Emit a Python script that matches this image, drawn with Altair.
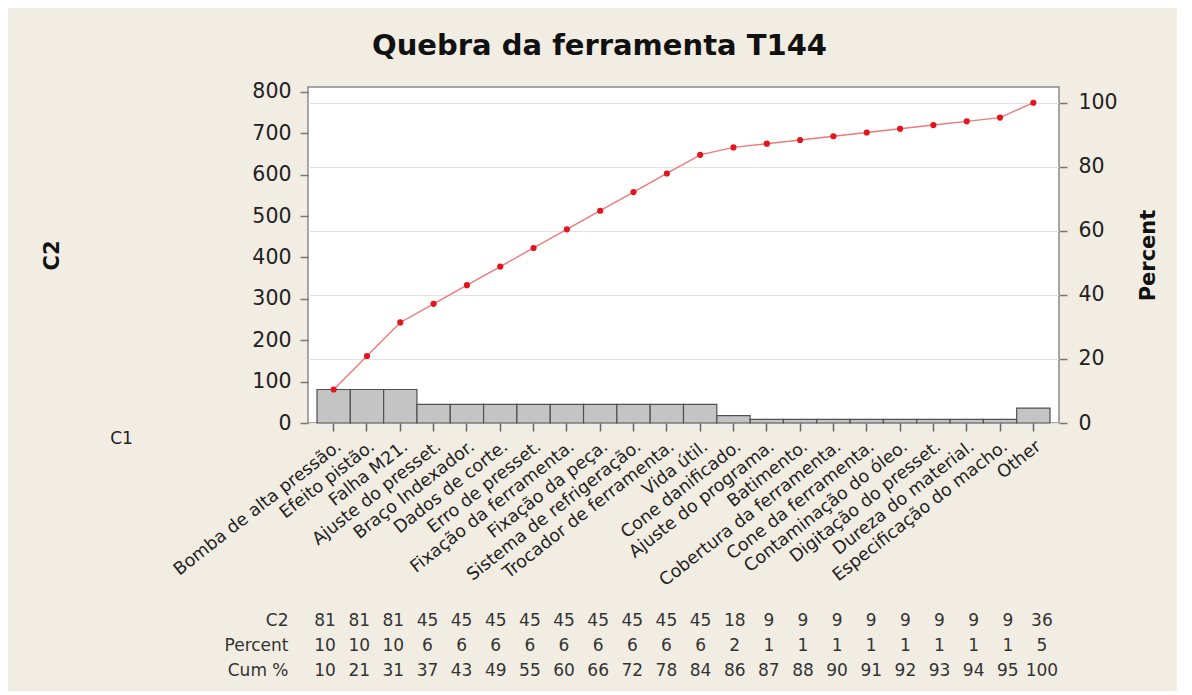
import altair as alt
import pandas as pd

categories = [
    "Bomba de alta pressão.", "Efeito pistão.", "Falha M21.", "Ajuste do presset.",
    "Braço Indexador.", "Dados de corte.", "Erro de presset.", "Fixação da ferramenta.",
    "Fixação da peça.", "Sistema de refrigeração.", "Trocador de ferramenta.", "Vida útil.",
    "Cone danificado.", "Ajuste do programa.", "Batimento.", "Cobertura da ferramenta.",
    "Cone da ferramenta.", "Contaminação do óleo.", "Digitação do presset.",
    "Dureza do material.", "Especificação do macho.", "Other",
]
counts = [81, 81, 81, 45, 45, 45, 45, 45, 45, 45, 45, 45, 18, 9, 9, 9, 9, 9, 9, 9, 9, 36]
percent_labels = [10, 10, 10, 6, 6, 6, 6, 6, 6, 6, 6, 6, 2, 1, 1, 1, 1, 1, 1, 1, 1, 5]
cum_labels = [10, 21, 31, 37, 43, 49, 55, 60, 66, 72, 78, 84, 86, 87, 88, 90, 91, 92, 93, 94, 95, 100]
row_names = ["C2", "Percent", "Cum %"]
left_ticks = [0, 100, 200, 300, 400, 500, 600, 700, 800]
right_ticks = [0, 20, 40, 60, 80, 100]

total = sum(counts)
cum_pct = []
running = 0
for c in counts:
    running += c
    cum_pct.append(running / total * 100)

df = pd.DataFrame({"cat": categories, "count": counts, "cum_pct": cum_pct})

rows = []
for i, cat in enumerate(categories):
    rows.append({"cat": cat, "row": "C2", "val": str(counts[i])})
    rows.append({"cat": cat, "row": "Percent", "val": str(percent_labels[i])})
    rows.append({"cat": cat, "row": "Cum %", "val": str(cum_labels[i])})
tdf = pd.DataFrame(rows)

FONT = "DejaVu Sans"
ymax = 812
pmax = ymax / total * 100
W, H = 751, 336

xscale = alt.Scale(domain=categories, paddingInner=0, paddingOuter=0.27)

bars = alt.Chart(df).mark_bar(fill="#c4c4c4", stroke="#505050", strokeWidth=1.2).encode(
    x=alt.X("cat:N", sort=categories, scale=xscale,
            axis=alt.Axis(title="C1", labelAngle=-38, labelAlign="right", labelBaseline="top",
                          labelFont=FONT, labelFontSize=17.5, labelColor="#222", labelPadding=6,
                          labelLimit=400, ticks=True, tickSize=8, tickColor="#666", tickWidth=1.5,
                          domain=False, titleFont=FONT, titleFontSize=17, titleFontWeight="normal",
                          titleColor="#222", titleX=-187, titleY=15, titleAngle=0,
                          titleAlign="center", titleBaseline="middle")),
    y=alt.Y("count:Q", scale=alt.Scale(domain=[0, ymax], nice=False),
            axis=alt.Axis(title="C2", values=left_ticks, grid=False, domain=False,
                          tickSize=8, tickColor="#777", tickWidth=1.5,
                          labelFont=FONT, labelFontSize=20.5, labelColor="#222", labelPadding=9,
                          titleFont=FONT, titleFontSize=21, titleFontWeight="bold", titleColor="#111",
                          titleX=-256, titleY=H / 2, titleAngle=270, titleAlign="center",
                          titleBaseline="middle")),
)

line = alt.Chart(df).mark_line(color="#f07878", strokeWidth=1.4).encode(
    x=alt.X("cat:N", sort=categories, scale=xscale),
    y=alt.Y("cum_pct:Q", scale=alt.Scale(domain=[0, pmax], nice=False),
            axis=alt.Axis(orient="right", title="Percent", values=right_ticks, grid=True,
                          gridColor="#e2e2e2", gridWidth=1.2, domain=False,
                          tickSize=8, tickColor="#777", tickWidth=1.5,
                          labelFont=FONT, labelFontSize=20.5, labelColor="#222", labelPadding=11,
                          titleFont=FONT, titleFontSize=21, titleFontWeight="bold", titleColor="#111",
                          titleX=89, titleY=H / 2, titleAngle=270, titleAlign="center",
                          titleBaseline="middle")),
)
pts = alt.Chart(df).mark_point(filled=True, color="#e3141c", size=38, opacity=1).encode(
    x=alt.X("cat:N", sort=categories, scale=xscale),
    y=alt.Y("cum_pct:Q", scale=alt.Scale(domain=[0, pmax], nice=False)),
)

main = alt.layer(bars, alt.layer(line, pts)).resolve_scale(y="independent").properties(
    width=W, height=H,
    view=alt.ViewBackground(fill="white", stroke="#8a8a8a", strokeWidth=1.5),
)

table = alt.Chart(tdf).mark_text(font=FONT, fontSize=17, color="#333").encode(
    x=alt.X("cat:N", sort=categories, scale=xscale, axis=None),
    y=alt.Y("row:N", sort=row_names, scale=alt.Scale(domain=row_names),
            axis=alt.Axis(title=None, ticks=False, domain=False, labelFont=FONT,
                          labelFontSize=17, labelColor="#333", labelPadding=20)),
    text="val:N",
).properties(width=W, height=75)

chart = alt.vconcat(main, table, spacing=18).properties(
    title=alt.TitleParams("Quebra da ferramenta T144", font=FONT, fontSize=29,
                          fontWeight="bold", color="#111", anchor="middle",
                          frame="bounds", offset=20),
    padding={"left": 32, "top": 24, "right": 18, "bottom": 8},
).configure(background="#f2ede3").configure_view(strokeWidth=0)

chart.save("out.html", embed_options={"renderer": "svg", "actions": False})
